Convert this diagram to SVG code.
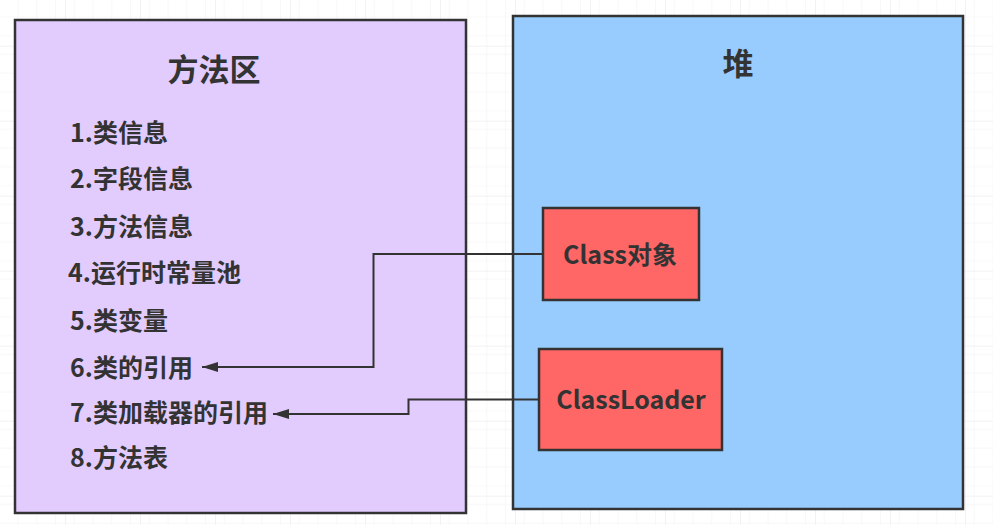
<svg xmlns="http://www.w3.org/2000/svg" width="993" height="525" viewBox="0 0 993 525">
<style>
.t{font-family:"Noto Sans CJK SC","Microsoft YaHei",sans-serif;font-weight:bold;fill:#333}
.box{stroke:#333;stroke-width:2.5}
.conn{fill:none;stroke:#333;stroke-width:2}
</style>
<defs>
<pattern id="minor" width="18.75" height="18.75" patternUnits="userSpaceOnUse" patternTransform="translate(65,45.7)">
<path d="M0 0H18.75M0 0V18.75" fill="none" stroke="#f1f1f1" stroke-width="1"/>
</pattern>
<pattern id="major" width="75" height="75" patternUnits="userSpaceOnUse" patternTransform="translate(65,45.7)">
<rect width="75" height="75" fill="url(#minor)"/>
<path d="M0 0H75M0 0V75" fill="none" stroke="#e6e6e6" stroke-width="1"/>
</pattern>
<marker id="arr" viewBox="0 0 16 10" refX="16" refY="5" markerWidth="16" markerHeight="10" markerUnits="userSpaceOnUse" orient="auto">
<path d="M0 0L16 5L0 10Z" fill="#333"/>
</marker>
</defs>
<rect width="993" height="525" fill="#fff"/>
<rect width="993" height="525" fill="url(#major)"/>
<g id="method-area">
<rect class="box" x="15" y="20" width="451" height="493" fill="#e2cbfd"/>
<text class="t" x="214" y="81" font-size="31" text-anchor="middle">方法区</text>
<g font-size="25">
<text class="t" x="70" y="142">1.类信息</text>
<text class="t" x="70" y="188">2.字段信息</text>
<text class="t" x="70" y="236">3.方法信息</text>
<text class="t" x="68" y="282">4.运行时常量池</text>
<text class="t" x="70" y="330">5.类变量</text>
<text class="t" x="70" y="377">6.类的引用</text>
<text class="t" x="70" y="422">7.类加载器的引用</text>
<text class="t" x="70" y="467">8.方法表</text>
</g>
</g>
<g id="heap">
<rect class="box" x="513" y="16" width="450" height="493" fill="#99ccfe"/>
<text class="t" x="738" y="75" font-size="31" text-anchor="middle">堆</text>
</g>
<g id="class-object">
<rect class="box" x="543" y="208" width="156" height="92" fill="#ff6666"/>
<text class="t" x="620" y="264" font-size="25" text-anchor="middle">Class对象</text>
</g>
<g id="classloader">
<rect class="box" x="539" y="349" width="183" height="101" fill="#ff6666"/>
<text class="t" x="631" y="409" font-size="25" text-anchor="middle">ClassLoader</text>
</g>
<g id="connectors">
<path class="conn" d="M543 254H373.5V367H202" marker-end="url(#arr)"/>
<path class="conn" d="M539 399.5H408.5V414H273" marker-end="url(#arr)"/>
</g>
</svg>
